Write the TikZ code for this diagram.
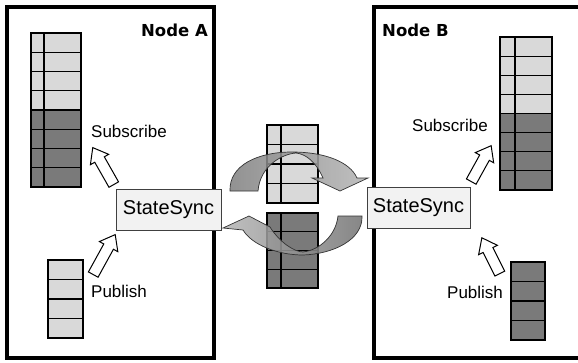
\documentclass[tikz,border=0pt]{standalone}
\usepackage{fontspec}
\setmainfont{Liberation Sans}
\newfontfamily\headfont{DejaVu Sans}
\usetikzlibrary{shapes.arrows}
\definecolor{cellLight}{HTML}{D9D9D9}
\definecolor{cellDark}{HTML}{7A7A7A}
\definecolor{syncFill}{HTML}{F2F2F2}
\definecolor{swapDark}{HTML}{7F7F7F}
\definecolor{swapLight}{HTML}{B5B5B5}
\tikzset{
  lightcell/.style={draw=black, fill=cellLight, line width=1.1pt},
  darkcell/.style={draw=black, fill=cellDark, line width=1.1pt},
  hostbox/.style={draw=black, line width=3.5pt},
  syncbox/.style={draw=black!75, fill=syncFill, line width=1pt, minimum width=105pt, minimum height=41pt, inner sep=0pt, font=\fontsize{20}{24}\selectfont},
  lbl/.style={inner sep=0pt, font=\fontsize{17}{20}\selectfont},
  hosttitle/.style={inner sep=0pt, font=\headfont\bfseries\fontsize{16.5}{20}\selectfont},
  blockarrow/.style={single arrow, draw=black, fill=white, line width=1pt, inner xsep=0pt, inner ysep=5pt, minimum width=19pt, single arrow head extend=5pt, single arrow tip angle=75, anchor=tail},
  swaparrow/.style={draw=black!80, line width=0.7pt, fill opacity=0.85}
}
\begin{document}
\begin{tikzpicture}[x=1pt, y=-1pt]
    \useasboundingbox (0,0) rectangle (578,362);
    \fill[white] (0,0) rectangle (578,362);

    \draw[hostbox] (7,7) rectangle (214,358);
    \draw[hostbox] (580,7) -- (374,7) -- (374,358) -- (580,358);
    \node[hosttitle, anchor=east] (titleA) at (208,30) {Node A};
    \node[hosttitle, anchor=west] (titleB) at (382,30) {Node B};

    \foreach \i in {0,...,3}
        \draw[lightcell] (31,{33+19.25*\i}) rectangle (81,{52.25+19.25*\i});
    \foreach \i in {4,...,7}
        \draw[darkcell] (31,{33+19.25*\i}) rectangle (81,{52.25+19.25*\i});
    \draw[line width=1.1pt] (44,33) -- (44,187);
    \foreach \i in {0,...,3}
        \draw[lightcell] (48,{260+19.5*\i}) rectangle (83,{279.5+19.5*\i});

    \foreach \i in {0,...,3}
        \draw[lightcell] (500,{37+19.125*\i}) rectangle (552,{56.125+19.125*\i});
    \foreach \i in {4,...,7}
        \draw[darkcell] (500,{37+19.125*\i}) rectangle (552,{56.125+19.125*\i});
    \draw[line width=1.1pt] (515,37) -- (515,190);
    \foreach \i in {0,...,3}
        \draw[darkcell] (511,{262+19.5*\i}) rectangle (545,{281.5+19.5*\i});

    \foreach \i in {0,...,3}
        \draw[lightcell] (267,{125+19.5*\i}) rectangle (318,{144.5+19.5*\i});
    \draw[line width=1.1pt] (281,125) -- (281,203);
    \foreach \i in {0,...,3}
        \draw[darkcell] (267,{213+18.75*\i}) rectangle (318,{231.75+18.75*\i});
    \draw[line width=1.1pt] (281,213) -- (281,288);

    \node[syncbox] (syncA) at (168.5,209.5) {StateSync};
    \node[syncbox, minimum width=103pt] (syncB) at (418.5,207.5) {StateSync};

    \node[lbl, anchor=west] (subA) at (91,131) {Subscribe};
    \node[lbl, anchor=west] (pubA) at (91,291) {Publish};
    \node[lbl, anchor=west] (subB) at (412,125) {Subscribe};
    \node[lbl, anchor=west] (pubB) at (447,292) {Publish};

    \node[blockarrow, rotate=119.6, minimum height=42.5pt] (upA) at (114,185) {};
    \node[blockarrow, rotate=61.2, minimum height=45.6pt] (inA) at (93,275) {};
    \node[blockarrow, rotate=61, minimum height=41pt] (upB) at (471,182) {};
    \node[blockarrow, rotate=116.6, minimum height=40pt] (inB) at (500,274) {};

    \path[swaparrow, left color=swapDark, right color=swapLight]
        (230,191) .. controls (229,165) and (258,152) .. (292,152)
        .. controls (325,152) and (350,162) .. (357,178)
        -- (368,178) -- (340,191) -- (312,178) -- (323,178)
        .. controls (316,162) and (306,154) .. (296,153)
        .. controls (282,154) and (260,166) .. (258,191) -- cycle;
    \path[swaparrow, left color=swapLight, right color=swapDark!110]
        (362,216) .. controls (363,240) and (333,254) .. (303,255)
        .. controls (278,255) and (252,245) .. (243,230)
        -- (223,228) -- (249,216) -- (270,227)
        .. controls (280,243) and (295,252) .. (303,252)
        .. controls (320,250) and (336,235) .. (338,216) -- cycle;
\end{tikzpicture}
\end{document}
